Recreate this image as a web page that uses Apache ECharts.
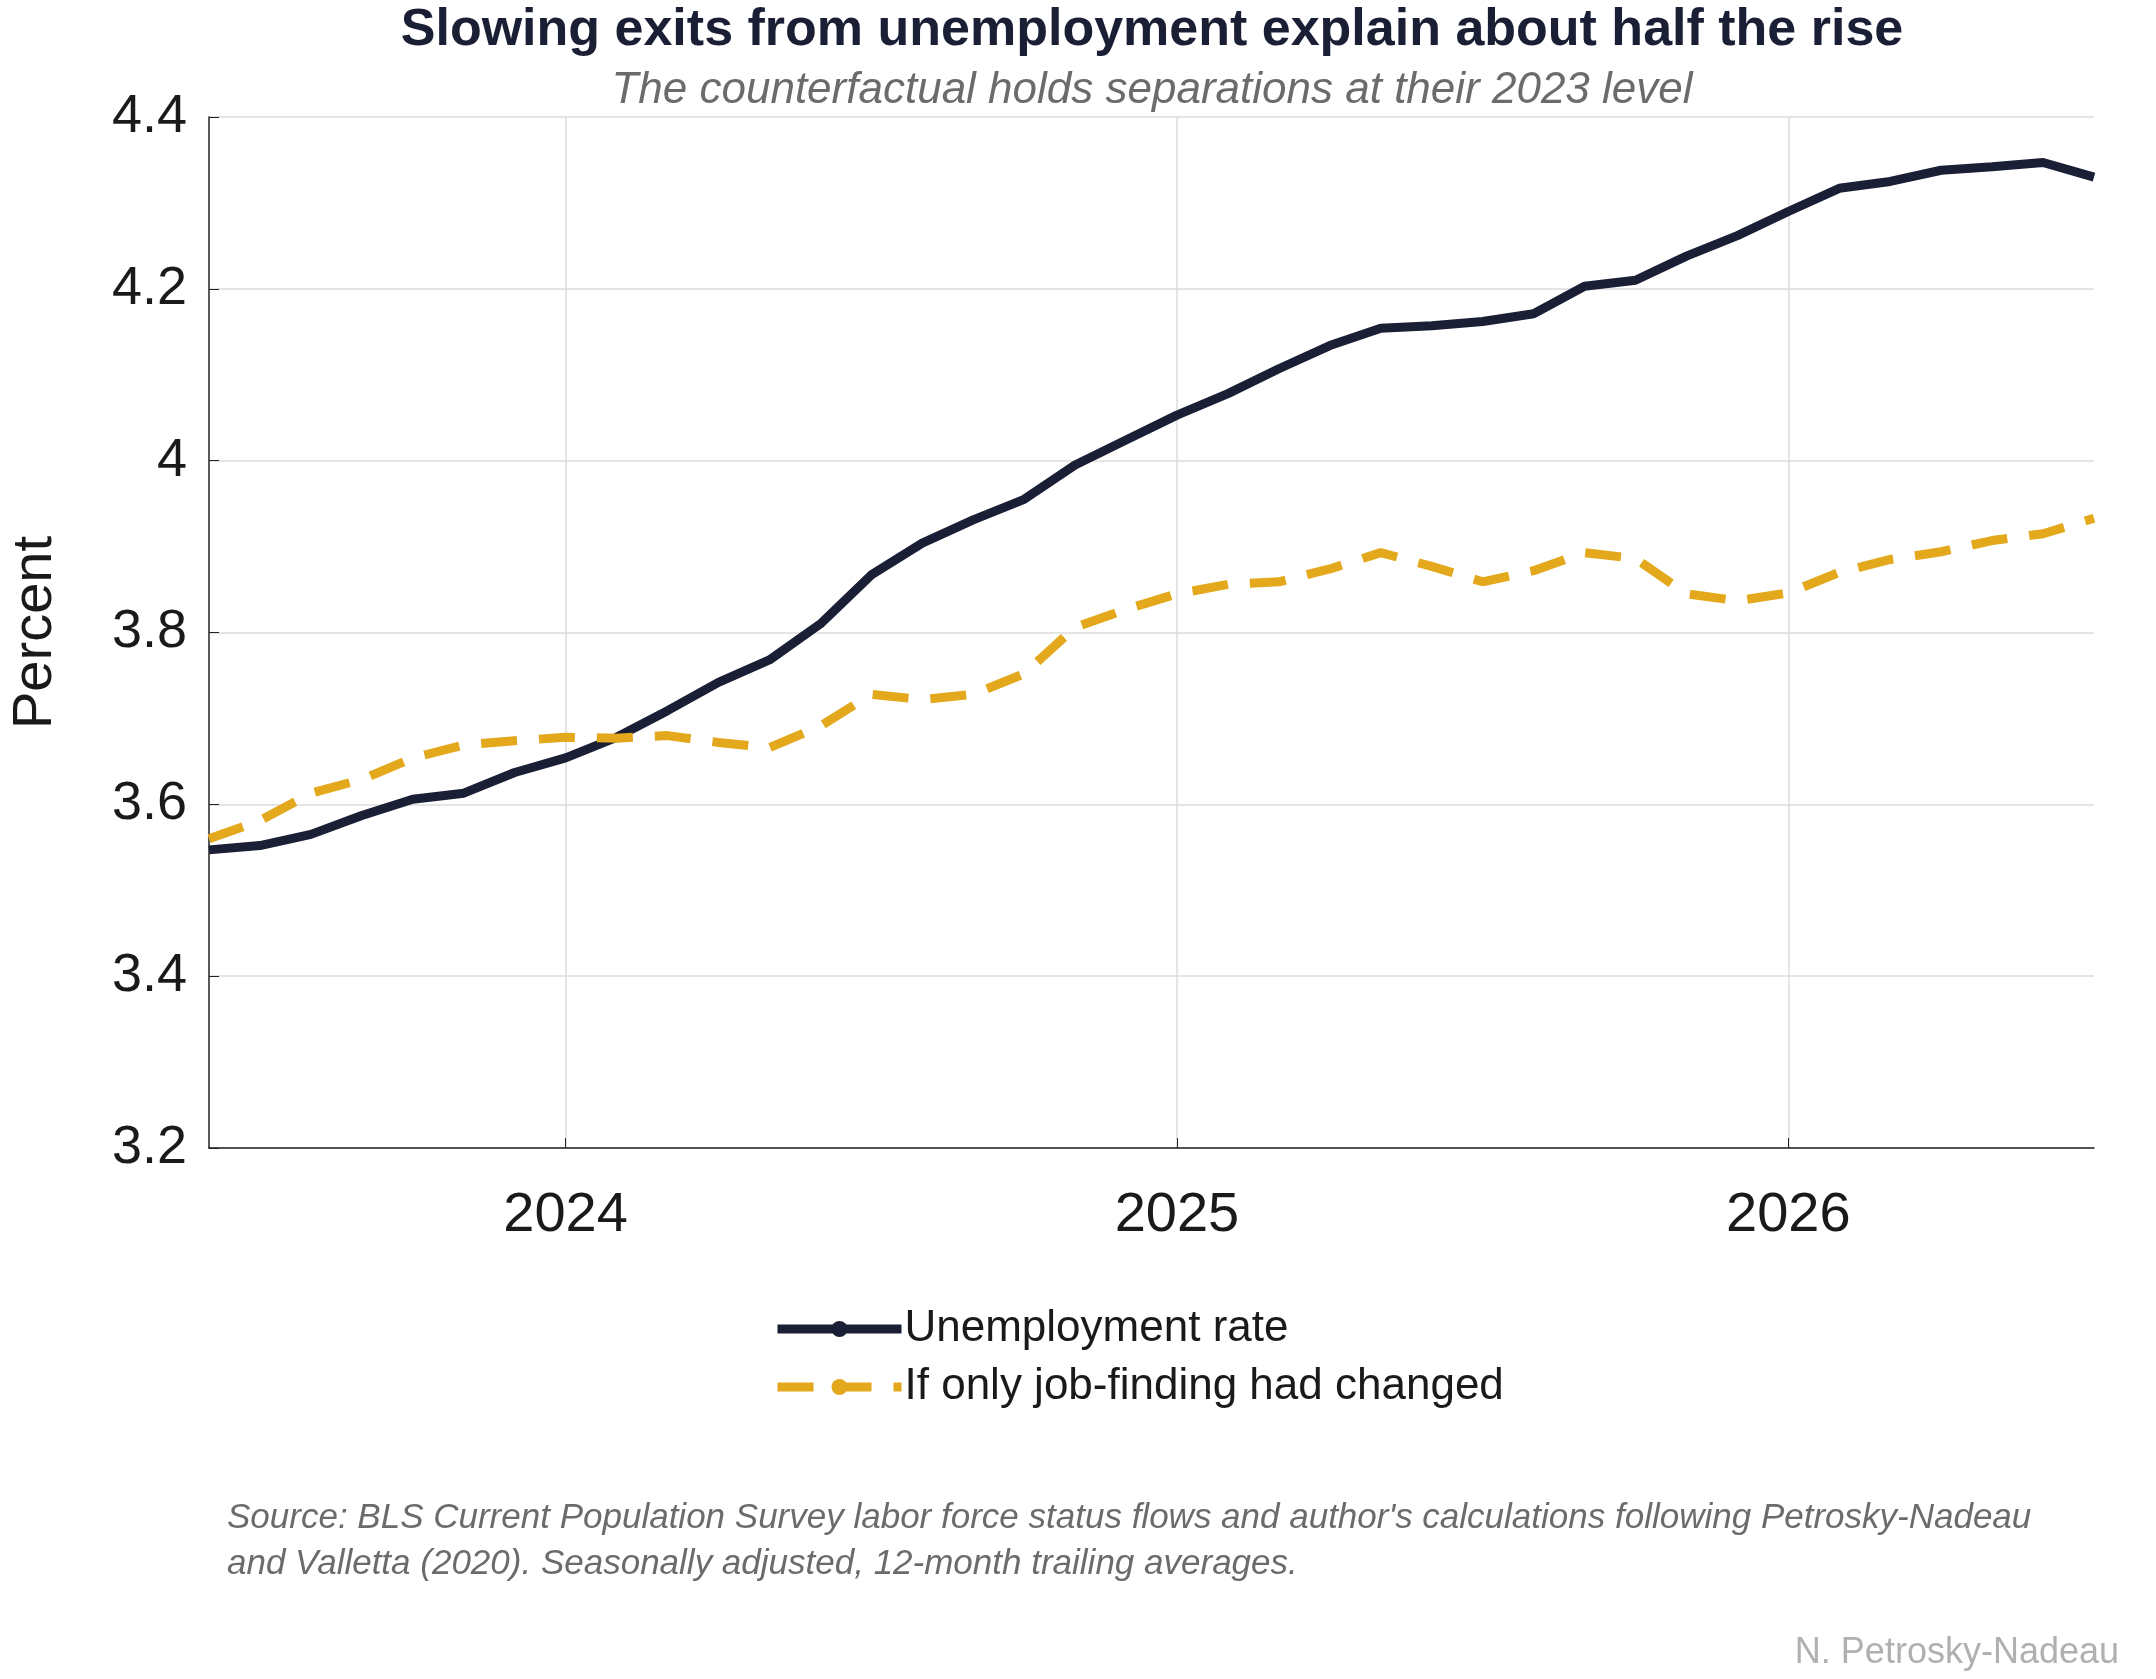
<!DOCTYPE html>
<html lang="en">
<head>
<meta charset="UTF-8">
<title>Slowing exits from unemployment</title>
<script src="https://cdn.jsdelivr.net/npm/echarts@6/dist/echarts.min.js"></script>
<style>html,body{margin:0;padding:0;background:#fff}</style>
</head>
<body>
<div id="chart" style="width:2156px;height:1679px;"></div>
<script>
// monthly, Jun 2023 .. Jul 2026 (as fractional years)
var startYear = 2023 + 5 / 12;
var unemp = [3.547, 3.552, 3.565, 3.587, 3.606, 3.613, 3.637, 3.654, 3.678, 3.709,
    3.742, 3.768, 3.810, 3.867, 3.904, 3.931, 3.955, 3.995, 4.024, 4.053,
    4.078, 4.107, 4.134, 4.154, 4.157, 4.162, 4.171, 4.203, 4.210, 4.238,
    4.262, 4.290, 4.317, 4.325, 4.338, 4.342, 4.347, 4.330];
var counterfactual = [3.560, 3.581, 3.613, 3.629, 3.654, 3.669, 3.674, 3.678, 3.677, 3.680,
    3.672, 3.666, 3.691, 3.728, 3.722, 3.728, 3.752, 3.806, 3.827, 3.845,
    3.856, 3.859, 3.874, 3.893, 3.877, 3.859, 3.872, 3.893, 3.886, 3.845,
    3.837, 3.846, 3.870, 3.885, 3.894, 3.907, 3.915, 3.933];
var yearTicks = [2024, 2025, 2026];

function pairs(vals) {
    return vals.map(function (v, i) { return [startYear + i / 12, v]; });
}

var font = 'Helvetica, Arial, "Liberation Sans", sans-serif';
var chart = echarts.init(document.getElementById('chart'));
chart.setOption({
    animation: false,
    textStyle: {fontFamily: font},
    title: [{
        text: 'Slowing exits from unemployment explain about half the rise',
        left: 1147, top: 0, textAlign: 'center',
        textStyle: {fontSize: 52, fontWeight: 'bold', color: '#1b1f36'}
    }, {
        text: 'The counterfactual holds separations at their 2023 level',
        left: 1147, top: 64, textAlign: 'center',
        textStyle: {fontSize: 44, fontStyle: 'italic', fontWeight: 'normal', color: '#6b6b6b'}
    }, {
        text: "Source: BLS Current Population Survey labor force status flows and author's calculations following Petrosky-Nadeau\nand Valletta (2020). Seasonally adjusted, 12-month trailing averages.",
        left: 222, top: 1490,
        textStyle: {fontSize: 35, fontStyle: 'italic', fontWeight: 'normal', color: '#6b6b6b', lineHeight: 46}
    }, {
        text: 'N. Petrosky-Nadeau',
        right: 32, top: 1630,
        textStyle: {fontSize: 36, fontWeight: 'normal', color: '#b0b0b0'}
    }],
    legend: {
        orient: 'vertical', left: 768, top: 1302,
        itemWidth: 124, itemHeight: 20, itemGap: 14,
        lineStyle: {width: 9},
        textStyle: {fontSize: 44, color: '#1a1a1a', padding: [0, 0, 0, -2]},
        data: ['Unemployment rate', 'If only job-finding had changed']
    },
    grid: {left: 199, right: 62, top: 117, bottom: 531},
    xAxis: {
        type: 'value', min: startYear, max: 2026.5,
        axisLine: {onZero: false, lineStyle: {color: '#222', width: 1.5}},
        axisTick: {inside: true, length: 10, customValues: yearTicks, lineStyle: {color: '#222'}},
        axisLabel: {customValues: yearTicks, fontSize: 56, color: '#1a1a1a', margin: 40,
            formatter: function (v) { return String(v); }},
        splitLine: {show: true, lineStyle: {color: '#dcdcdc', width: 1.5}}
    },
    yAxis: {
        type: 'value', min: 3.2, max: 4.4, interval: 0.2,
        name: 'Percent', nameLocation: 'middle', nameGap: 145,
        nameTextStyle: {fontSize: 56, color: '#1a1a1a'},
        axisLine: {show: true, lineStyle: {color: '#222', width: 1.5}},
        axisTick: {show: true, inside: true, length: 10, lineStyle: {color: '#222'}},
        axisLabel: {fontSize: 54, color: '#1a1a1a', margin: 22},
        splitLine: {show: true, lineStyle: {color: '#dcdcdc', width: 1.5}}
    },
    series: [{
        name: 'Unemployment rate', type: 'line', symbol: 'none',
        data: pairs(unemp),
        itemStyle: {color: '#1b1f36'},
        lineStyle: {color: '#1b1f36', width: 9}
    }, {
        name: 'If only job-finding had changed', type: 'line', symbol: 'none',
        data: pairs(counterfactual),
        itemStyle: {color: '#e3a81c'},
        lineStyle: {color: '#e3a81c', width: 9, type: [36, 22]}
    }]
});
</script>
</body>
</html>
